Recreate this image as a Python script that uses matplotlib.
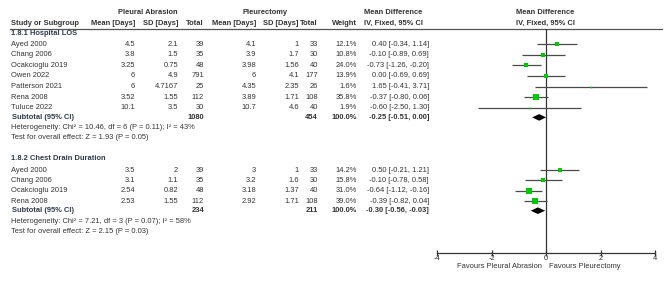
import matplotlib
matplotlib.use("Agg")
import matplotlib.pyplot as plt
import numpy as np

plt.rcParams['font.family'] = ['Liberation Sans', 'DejaVu Sans']
plt.rcParams['axes.unicode_minus'] = False

# ---------------- data ----------------
los_studies = ["Ayed 2000", "Chang 2006", "Ocakcioglu 2019", "Owen 2022",
               "Patterson 2021", "Rena 2008", "Tuluce 2022"]
los_pa_mean = [4.5, 3.8, 3.25, 6, 6, 3.52, 10.1]
los_pa_sd = [2.1, 1.5, 0.75, 4.9, 4.7167, 1.55, 3.5]
los_pa_n = [39, 35, 48, 791, 25, 112, 30]
los_pl_mean = [4.1, 3.9, 3.98, 6, 4.35, 3.89, 10.7]
los_pl_sd = [1, 1.7, 1.56, 4.1, 2.35, 1.71, 4.6]
los_pl_n = [33, 30, 40, 177, 26, 108, 40]
los_weight = [12.1, 10.8, 24.0, 13.9, 1.6, 35.8, 1.9]
los_md = [0.40, -0.10, -0.73, 0.00, 1.65, -0.37, -0.60]
los_lo = [-0.34, -0.89, -1.26, -0.69, -0.41, -0.80, -2.50]
los_hi = [1.14, 0.69, -0.20, 0.69, 3.71, 0.06, 1.30]
los_total = [1080, 454]
los_sub = [-0.25, -0.51, 0.00]
los_het = "Heterogeneity: Chi² = 10.46, df = 6 (P = 0.11); I² = 43%"
los_test = "Test for overall effect: Z = 1.93 (P = 0.05)"

cd_studies = ["Ayed 2000", "Chang 2006", "Ocakcioglu 2019", "Rena 2008"]
cd_pa_mean = [3.5, 3.1, 2.54, 2.53]
cd_pa_sd = [2, 1.1, 0.82, 1.55]
cd_pa_n = [39, 35, 48, 112]
cd_pl_mean = [3, 3.2, 3.18, 2.92]
cd_pl_sd = [1, 1.6, 1.37, 1.71]
cd_pl_n = [33, 30, 40, 108]
cd_weight = [14.2, 15.8, 31.0, 39.0]
cd_md = [0.50, -0.10, -0.64, -0.39]
cd_lo = [-0.21, -0.78, -1.12, -0.82]
cd_hi = [1.21, 0.58, -0.16, 0.04]
cd_total = [234, 211]
cd_sub = [-0.30, -0.56, -0.03]
cd_het = "Heterogeneity: Chi² = 7.21, df = 3 (P = 0.07); I² = 58%"
cd_test = "Test for overall effect: Z = 2.15 (P = 0.03)"

x_ticks = [-4, -2, 0, 2, 4]
favours = ["Favours Pleural Abrasion", "Favours Pleurectomy"]

# ---------------- layout ----------------
W, H = 669, 281
fig = plt.figure(figsize=(W / 100, H / 100), dpi=100)
tab = fig.add_axes([0, 0, 1, 1])
tab.set_xlim(0, W)
tab.set_ylim(H, 0)
tab.axis('off')

TC = '#333333'
FS = 5.4
GREEN = '#00c800'
LC = '#4a4a4a'

def t(x, y, s, ha='left', bold=False, color=TC):
    tab.text(x, y, s, ha=ha, va='center', fontsize=FS, color=color,
             fontweight='bold' if bold else 'normal')

# column positions (pixel)
c_name = 11
c_pam, c_pasd, c_pan = 135, 178, 204
c_plm, c_plsd, c_pln = 256, 299, 318
c_w, c_ci = 357, 429

# headers
t(148, 13, "Pleural Abrasion", 'center', True)
t(265, 13, "Pleurectomy", 'center', True)
t(393, 13, "Mean Difference", 'center', True)
t(545, 13, "Mean Difference", 'center', True)
y_h2 = 23.5
t(c_name, y_h2, "Study or Subgroup", bold=True)
t(c_pam, y_h2, "Mean [Days]", 'right', True)
t(c_pasd, y_h2, "SD [Days]", 'right', True)
t(c_pan, y_h2, "Total", 'right', True)
t(c_plm, y_h2, "Mean [Days]", 'right', True)
t(c_plsd - 1, y_h2, "SD [Days]", 'right', True)
t(c_pln, y_h2, "Total", 'right', True)
t(c_w, y_h2, "Weight", 'right', True)
t(393, y_h2, "IV, Fixed, 95% CI", 'center', True)
t(545, y_h2, "IV, Fixed, 95% CI", 'center', True)
tab.plot([10, 662], [28.5, 28.5], color='#555555', lw=0.9)

# forest axes
x0_px, x1_px = 437, 655
y_top, y_bot = 28.5, 252.5
fax = fig.add_axes([x0_px / W, (H - y_bot) / H, (x1_px - x0_px) / W, (y_bot - y_top) / H])
fax.set_xlim(-4, 4)
fax.set_ylim(y_bot, y_top)
fax.patch.set_alpha(0)
for s in ['top', 'left', 'right']:
    fax.spines[s].set_visible(False)
fax.spines['bottom'].set_color('#333333')
fax.spines['bottom'].set_linewidth(0.9)
fax.set_yticks([])
fax.set_xticks(x_ticks)
fax.set_xticklabels([str(v) for v in x_ticks])
fax.tick_params(axis='x', direction='inout', length=5, width=0.9, color='#333333',
                labelsize=FS, labelcolor=TC, pad=-0.5)
fax.axvline(0, color='#333333', lw=0.9)

def fmt_ci(m, l, h):
    return f"{m:.2f} [{l:.2f}, {h:.2f}]"

def section(title, y_title, y0, step, studies, pam, pasd, pan, plm, plsd, pln,
            w, md, lo, hi, totals, sub, het, test):
    t(c_name, y_title, title, bold=True, color='#2f3a4a')
    ys = [y0 + i * step for i in range(len(studies))]
    for i, y in enumerate(ys):
        t(c_name, y, studies[i])
        t(c_pam, y, f"{pam[i]:g}", 'right')
        t(c_pasd, y, f"{pasd[i]:g}", 'right')
        t(c_pan, y, f"{pan[i]}", 'right')
        t(c_plm, y, f"{plm[i]:g}", 'right')
        t(c_plsd, y, f"{plsd[i]:g}", 'right')
        t(c_pln, y, f"{pln[i]}", 'right')
        t(c_w, y, f"{w[i]:.1f}%", 'right')
        t(c_ci, y, fmt_ci(md[i], lo[i], hi[i]), 'right')
        fax.plot([lo[i], hi[i]], [y, y], color=LC, lw=0.9, solid_capstyle='butt')
        ms = max(1.2, 0.7 * np.sqrt(w[i]))
        fax.plot(md[i], y, marker='s', ms=ms, color=GREEN, mec=GREEN, mew=0)
    ysub = ys[-1] + 9.5
    t(c_name + 1, ysub, "Subtotal (95% CI)", bold=True, color='#2f3a4a')
    t(c_pan, ysub, f"{totals[0]}", 'right', True)
    t(c_pln, ysub, f"{totals[1]}", 'right', True)
    t(c_w, ysub, "100.0%", 'right', True)
    t(c_ci, ysub, fmt_ci(*sub), 'right', True)
    m, l, h = sub
    fax.fill([l, m, h, m], [ysub, ysub - 3.3, ysub, ysub + 3.3], color='black', lw=0)
    t(c_name, ysub + 10.5, het)
    t(c_name, ysub + 20.5, test)

section("1.8.1 Hospital LOS", 33.5, 44, 10.65, los_studies, los_pa_mean, los_pa_sd,
        los_pa_n, los_pl_mean, los_pl_sd, los_pl_n, los_weight, los_md, los_lo,
        los_hi, los_total, los_sub, los_het, los_test)
section("1.8.2 Chest Drain Duration", 158, 170, 10.4, cd_studies, cd_pa_mean, cd_pa_sd,
        cd_pa_n, cd_pl_mean, cd_pl_sd, cd_pl_n, cd_weight, cd_md, cd_lo,
        cd_hi, cd_total, cd_sub, cd_het, cd_test)

t(542, 267, favours[0], 'right')
t(549, 267, favours[1], 'left')

fig.savefig("out.png", dpi=100)
